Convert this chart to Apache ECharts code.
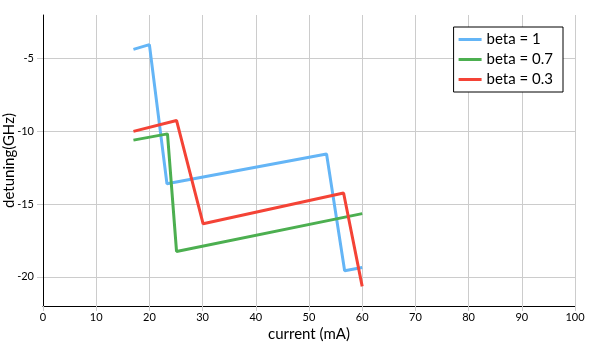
<!DOCTYPE html>
<html><head><meta charset="utf-8">
<script src="https://cdn.jsdelivr.net/npm/echarts@6/dist/echarts.min.js"></script>
<style>html,body{margin:0;padding:0;background:#fff}#c{width:591px;height:343px}</style>
</head><body><div id="c"></div>
<script>
const seriesNames = ['beta = 1', 'beta = 0.7', 'beta = 0.3'];
const beta1 = [[17, -4.36], [20, -4.04], [23.3, -13.6], [53.3, -11.55], [56.7, -19.58], [60, -19.35]];
const beta07 = [[17, -10.6], [23.4, -10.17], [25.1, -18.25], [60, -15.65]];
const beta03 = [[17, -10.0], [25.1, -9.25], [30.1, -16.35], [56.5, -14.23], [60, -20.65]];
const yTicks = [-20, -15, -10, -5];
const colors = ['#64b5f6', '#4caf50', '#f44336'];
const FONT = 'Lato';

const chart = echarts.init(document.getElementById('c'), null, {renderer: 'canvas'});
const mk = (name, data, color) => ({
  name, type: 'line', data, showSymbol: false, symbol: 'none',
  lineStyle: {width: 3, color}, itemStyle: {color}, animation: false
});
chart.setOption({
  animation: false,
  textStyle: {fontFamily: FONT},
  grid: {left: 43, right: 16, top: 15, bottom: 37, containLabel: false, outerBoundsMode: 'none'},
  legend: {
    right: 28, top: 27, orient: 'vertical', itemWidth: 23, itemHeight: 3, itemGap: 5,
    borderColor: '#000', borderWidth: 1, padding: [5, 10, 5, 5], backgroundColor: '#fff',
    textStyle: {fontFamily: FONT, fontSize: 15, color: '#000'},
    icon: 'rect',
    data: seriesNames
  },
  xAxis: {
    type: 'value', min: 0, max: 100, interval: 10,
    name: 'current (mA)', nameLocation: 'middle', nameGap: 21, nameMoveOverlap: false,
    nameTextStyle: {fontFamily: FONT, fontSize: 15, color: '#000'},
    axisLine: {onZero: false, lineStyle: {color: '#000', width: 1}},
    axisTick: {show: true, length: 5, lineStyle: {color: '#ccc'}},
    axisLabel: {fontFamily: FONT, fontSize: 11, color: '#000', margin: 6},
    splitLine: {show: true, lineStyle: {color: '#ccc', width: 1}}
  },
  yAxis: {
    type: 'value', min: -22, max: -2,
    name: 'detuning(GHz)', nameLocation: 'middle', nameGap: 26, nameRotate: 90, nameMoveOverlap: false,
    nameTextStyle: {fontFamily: FONT, fontSize: 15, color: '#000'},
    axisLine: {show: true, onZero: false, lineStyle: {color: '#000', width: 1}},
    axisLabel: {fontFamily: FONT, fontSize: 11, color: '#000', margin: 9, customValues: yTicks},
    axisTick: {show: true, length: 6, lineStyle: {color: '#ccc'}, customValues: yTicks},
    splitLine: {show: true, lineStyle: {color: '#ccc', width: 1}}
  },
  series: [mk(seriesNames[0], beta1, colors[0]), mk(seriesNames[1], beta07, colors[1]), mk(seriesNames[2], beta03, colors[2])]
});
</script></body></html>
